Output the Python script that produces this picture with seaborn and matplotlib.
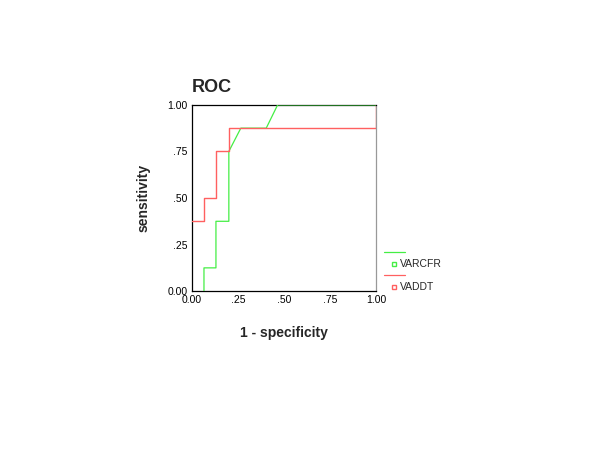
import matplotlib
matplotlib.use("Agg")
import matplotlib.pyplot as plt
import seaborn as sns
import pandas as pd
from matplotlib.lines import Line2D

# ROC curve data
varcfr_fpr = [0.065, 0.065, 0.13, 0.13, 0.2, 0.2, 0.265, 0.403, 0.465, 1.0]
varcfr_tpr = [0.0, 0.125, 0.125, 0.375, 0.375, 0.75, 0.875, 0.875, 1.0, 1.0]
vaddt_fpr = [0.0, 0.065, 0.065, 0.13, 0.13, 0.2, 0.2, 1.0, 1.0]
vaddt_tpr = [0.375, 0.375, 0.5, 0.5, 0.75, 0.75, 0.875, 0.875, 1.0]
tick_values = [0.0, 0.25, 0.5, 0.75, 1.0]
tick_labels = ["0.00", ".25", ".50", ".75", "1.00"]
series_names = ["VARCFR", "VADDT"]

GREEN = "#44ee44"
RED = "#ff6060"

sns.set_style("white")
plt.rcParams['font.family'] = ['Liberation Sans', 'DejaVu Sans']

fig = plt.figure(figsize=(6, 4.5), dpi=100)
ax = fig.add_axes([0.32, 0.353, 0.307, 0.414])

df_g = pd.DataFrame({"x": varcfr_fpr, "y": varcfr_tpr})
df_r = pd.DataFrame({"x": vaddt_fpr, "y": vaddt_tpr})

sns.lineplot(data=df_g, x="x", y="y", sort=False, estimator=None, color=GREEN,
             linewidth=0.9, ax=ax, zorder=3)
sns.lineplot(data=df_r, x="x", y="y", sort=False, estimator=None, color=RED,
             linewidth=1.0, ax=ax, zorder=4)

ax.set_xlim(0, 1)
ax.set_ylim(0, 1)
ax.set_xticks(tick_values)
ax.set_xticklabels(tick_labels)
ax.set_yticks(tick_values)
ax.set_yticklabels(tick_labels)
ax.tick_params(axis='both', length=2, width=1, direction='out', labelsize=7.5,
               pad=1, colors='black')

for side in ['left', 'bottom', 'top']:
    ax.spines[side].set_color('black')
    ax.spines[side].set_linewidth(0.9)
ax.spines['right'].set_color('#999999')
ax.spines['right'].set_linewidth(0.9)

ax.set_xlabel("1 - specificity", fontsize=10, fontweight='bold', labelpad=15)
ax.set_ylabel("sensitivity", fontsize=10, fontweight='bold', labelpad=12)
ax.set_title("ROC", fontsize=13, fontweight='bold', loc='left', pad=9)

handles = [
    Line2D([], [], color=GREEN, linewidth=0.9),
    Line2D([], [], color=GREEN, marker='s', markersize=3, markerfacecolor='none',
           linestyle='none'),
    Line2D([], [], color=RED, linewidth=0.9),
    Line2D([], [], color=RED, marker='s', markersize=3, markerfacecolor='none',
           linestyle='none'),
]
labels = ["", series_names[0], "", series_names[1]]
ax.legend(handles, labels, loc='upper left', bbox_to_anchor=(1.02, 0.255),
          frameon=False, fontsize=7.5, handlelength=2.0, handletextpad=-0.5,
          labelspacing=0.15, borderaxespad=0)

fig.savefig("out.png", dpi=100)
